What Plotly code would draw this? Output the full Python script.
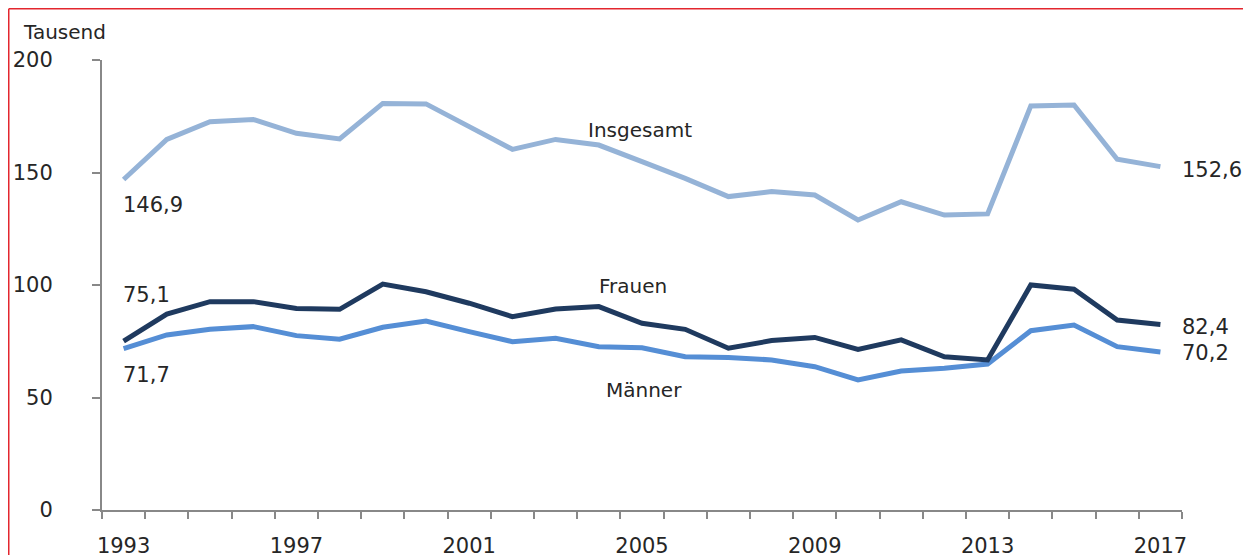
import plotly.graph_objects as go

years = list(range(1993, 2018))

insgesamt = [146.9, 164.7, 172.6, 173.6, 167.4, 164.9, 180.7, 180.5, 170.4, 160.3,
             164.7, 162.2, 154.8, 147.4, 139.3, 141.5, 140.0, 128.9, 137.0, 131.1,
             131.6, 179.6, 180.0, 155.9, 152.6]
frauen = [75.1, 87.1, 92.6, 92.6, 89.6, 89.2, 100.4, 97.0, 91.9, 85.9,
          89.3, 90.4, 83.0, 80.3, 71.9, 75.3, 76.7, 71.4, 75.6, 68.1,
          66.7, 100.0, 98.1, 84.4, 82.4]
maenner = [71.7, 77.8, 80.3, 81.5, 77.5, 75.9, 81.2, 84.0, 79.3, 74.8,
           76.3, 72.6, 72.1, 68.1, 67.8, 66.7, 63.7, 57.8, 61.8, 63.0,
           64.9, 79.7, 82.2, 72.6, 70.2]

year_labels = ["1993", "1997", "2001", "2005", "2009", "2013", "2017"]

FONT = "DejaVu Sans"
TXT = "#262626"

# page body has an 8px margin, so plot geometry is given relative to that
L, T, PW, PH = 94, 52, 1080, 450

def de(v):
    return f"{v:.1f}".replace(".", ",")

def px(x, y):
    # figure pixel -> paper coords
    return (x - L) / PW, (T + PH - y) / PH

fig = go.Figure()

fig.add_scatter(x=years, y=insgesamt, mode="lines", name="Insgesamt",
                line=dict(color="#95B3D7", width=5))
fig.add_scatter(x=years, y=maenner, mode="lines", name="Männer",
                line=dict(color="#558ED5", width=5))
fig.add_scatter(x=years, y=frauen, mode="lines", name="Frauen",
                line=dict(color="#1F3A5F", width=5))

ann = []
# start / end values
ann.append(dict(x=years[0], y=insgesamt[0], text=de(insgesamt[0]), xanchor="left", xshift=-3, yshift=-26))
ann.append(dict(x=years[0], y=frauen[0], text=de(frauen[0]), xanchor="left", xshift=-3, yshift=46))
ann.append(dict(x=years[0], y=maenner[0], text=de(maenner[0]), xanchor="left", xshift=-3, yshift=-26))
ann.append(dict(x=years[-1], y=insgesamt[-1], text=de(insgesamt[-1]), xanchor="left", xshift=20, yshift=-3))
ann.append(dict(x=years[-1], y=frauen[-1], text=de(frauen[-1]), xanchor="left", xshift=20, yshift=-2))
ann.append(dict(x=years[-1], y=maenner[-1], text=de(maenner[-1]), xanchor="left", xshift=20, yshift=-1))
for a in ann:
    a["font"] = dict(family=FONT, size=21, color=TXT)
# series names
names = [dict(x=2004.95, y=168.9, text="Insgesamt"),
         dict(x=2004.8, y=99.6, text="Frauen"),
         dict(x=2005.05, y=53.3, text="Männer")]
for a in names:
    a.update(xanchor="center", font=dict(family=FONT, size=20, color=TXT))
ann += names
for a in ann:
    a.update(xref="x", yref="y", showarrow=False, yanchor="middle")

# axis unit
tx, ty = px(13, 24)
ann.append(dict(xref="paper", yref="paper", x=tx, y=ty,
                text="Tausend", showarrow=False, xanchor="left", yanchor="middle",
                font=dict(family=FONT, size=20, color=TXT)))

bx, by = px(0.75, 0.75)
fig.update_layout(
    width=1251, height=555,
    margin=dict(l=L, r=1251 - L - PW, t=T, b=555 - T - PH, autoexpand=False),
    paper_bgcolor="white", plot_bgcolor="white",
    showlegend=False,
    annotations=ann,
    shapes=[
        dict(type="line", xref="paper", yref="paper",
             x0=bx, x1=1.3, y0=by, y1=by,
             line=dict(color="#E3262E", width=1.5)),
        dict(type="line", xref="paper", yref="paper",
             x0=bx, x1=bx, y0=-0.3, y1=by,
             line=dict(color="#E3262E", width=1.5)),
    ],
)

fig.update_xaxes(
    range=[1992.5, 2017.5], automargin=False,
    tickvals=[int(y) for y in year_labels], ticktext=year_labels,
    ticks="", ticklabelstandoff=16,
    showline=True, linecolor="#888888", linewidth=2,
    showgrid=False, zeroline=False,
    tickfont=dict(family=FONT, size=21, color=TXT),
    minor=dict(tick0=1992.5, dtick=1, ticks="outside", ticklen=7,
               tickcolor="#888888", tickwidth=2, showgrid=False),
)
fig.update_yaxes(
    range=[0, 200], tickvals=[0, 50, 100, 150, 200], automargin=False,
    ticks="outside", ticklen=8, tickcolor="#888888", tickwidth=2,
    ticklabelstandoff=35,
    showline=True, linecolor="#888888", linewidth=2,
    showgrid=False, zeroline=False,
    tickfont=dict(family=FONT, size=21, color=TXT),
)

fig.write_html("out.html")
